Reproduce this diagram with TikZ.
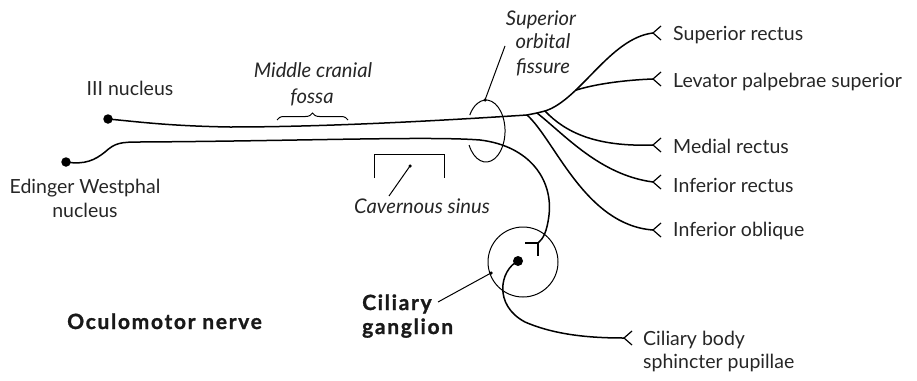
\documentclass[tikz,border=0pt]{standalone}
\usepackage{fontspec}
\setmainfont{Lato}
\usetikzlibrary{decorations.pathreplacing,calc}
\tikzset{
  lbl/.style={font=\fontsize{19.5}{24}\selectfont, inner sep=0pt, text=black!85},
  ilbl/.style={lbl, font=\fontsize{20.2}{24}\selectfont\itshape},
  blbl/.style={inner sep=0pt, text=black!90, font=\fontsize{21}{24}\selectfont\bfseries\addfontfeature{LetterSpace=8,FakeBold=1.2}},
  nerve/.style={line width=1.5pt, line cap=round},
  thin/.style={line width=1pt},
  dotnode/.style={circle, fill=black, inner sep=0pt, minimum size=#1},
  fork/.style={line width=1.2pt}
}
\begin{document}
\begin{tikzpicture}[x=1pt,y=-1pt]
\path[use as bounding box] (0,0) rectangle (917,380);

% nuclei
\node[dotnode=9.5pt] (iii) at (108,119) {};
\node[dotnode=9.5pt] (ew) at (66,162) {};
\node[lbl, anchor=base] (iiil) at (130,95) {III nucleus};
\node[lbl, anchor=base] (ewl1) at (85,193) {Edinger Westphal};
\node[lbl, anchor=base] (ewl2) at (85,217) {nucleus};

% muscle endings (fork vertices)
\coordinate (sr) at (653,33);
\coordinate (lps) at (653,79);
\coordinate (mr) at (653,145);
\coordinate (ir) at (653,182);
\coordinate (io) at (653,230);
\coordinate (cb) at (624,338);
\coordinate (syn) at (538,243);

% branch points on the main trunk
\coordinate (b1) at (527,115);
\coordinate (b2) at (537,113);
\coordinate (b3) at (545,111);

% main trunk (III nucleus) to superior rectus
\draw[nerve] (iii.center) .. controls (140,122) and (170,126) .. (230,127)
   .. controls (330,127) and (450,120) .. (b1)
   .. controls (531,114.2) and (534,113.6) .. (b2)
   .. controls (540,112.3) and (542,111.7) .. (b3)
   .. controls (580,100) and (610,38) .. coordinate[pos=0.3] (b4) (sr);
% levator
\draw[nerve] (b4) .. controls (595,84) and (625,80) .. (lps);
% medial rectus
\draw[nerve] (b3) .. controls (565,132) and (595,147) .. (mr);
% inferior rectus
\draw[nerve] (b2) .. controls (565,135) and (600,175) .. (ir);
% inferior oblique
\draw[nerve] (b1) .. controls (555,140) and (585,225) .. (io);

% parasympathetic (Edinger Westphal) to ciliary ganglion
\draw[nerve] (ew.center) .. controls (85,165) and (95,160) .. (105,152)
   .. controls (115,143) and (120,142) .. (140,142)
   .. controls (300,141) and (430,136) .. (480,140)
   .. controls (530,146) and (553,180) .. (549,215)
   .. controls (547,232) and (543,239) .. (syn);
\draw[fork] (syn) -- ++(-13,0);
\draw[fork] (syn) -- ++(0,13);

% ciliary ganglion
\node[circle, draw, thin, minimum size=70pt, inner sep=0pt] (cg) at (523,262) {};
\node[dotnode=10pt] (gdot) at (518,261) {};
\draw[nerve] (gdot.center) .. controls (500,270) and (493,305) .. (525,322)
   .. controls (555,335) and (590,338) .. (cb);

% forks at muscles
\foreach \p in {sr,lps,mr,ir,io,cb}{
  \draw[fork] ($(\p)+(8,-7)$) -- (\p) -- ($(\p)+(8,7)$);
}

% superior orbital fissure (left side hidden behind the nerves)
\coordinate (sofstart) at (469.1,145.1);
\draw[thin] (sofstart) arc[start angle=207, end angle=509, x radius=19pt, y radius=31pt];
\node[dotnode=3.5pt] (sofdot) at (485,100) {};
\coordinate (sofend) at (505,46);
\draw[thin] (sofdot.center) -- (sofend);
\node[ilbl, anchor=base] (sof1) at (541,25) {Superior};
\node[ilbl, anchor=base] (sof2) at (543,48) {orbital};
\node[ilbl, anchor=base] (sof3) at (543,73) {fissure};

% middle cranial fossa
\draw[thin, decorate, decoration={brace, amplitude=7pt}] (277,120) -- (348,120);
\node[ilbl, anchor=base] (mcf1) at (313,77) {Middle cranial};
\node[ilbl, anchor=base] (mcf2) at (312,103) {fossa};

% cavernous sinus
\draw[thin] (374,178) -- (374,154) -- (444,154) -- (444,178);
\node[dotnode=3.5pt] (csdot) at (410,166) {};
\coordinate (csend) at (389,196);
\draw[thin] (csdot.center) -- (csend);
\node[ilbl, anchor=base] (csl) at (422,213) {Cavernous sinus};

% ciliary ganglion label
\node[dotnode=3.5pt] (cgdot) at (491,273) {};
\coordinate (cgend) at (438,302);
\draw[thin] (cgdot.center) -- (cgend);
\node[blbl, anchor=base west] (cgl1) at (362,310) {Ciliary};
\node[blbl, anchor=base west] (cgl2) at (362,334) {ganglion};

% muscle labels
\node[lbl, anchor=base west] (srl) at (673,40) {Superior rectus};
\node[lbl, anchor=base west] (lpsl) at (673,87) {Levator palpebrae superior};
\node[lbl, anchor=base west] (mrl) at (673,153) {Medial rectus};
\node[lbl, anchor=base west] (irl) at (673,192) {Inferior rectus};
\node[lbl, anchor=base west] (iol) at (673,236) {Inferior oblique};
\node[lbl, anchor=base west] (cbl1) at (643,345) {Ciliary body};
\node[lbl, anchor=base west] (cbl2) at (643,368) {sphincter pupillae};

% title
\node[blbl, anchor=base west] (title) at (67,329) {Oculomotor nerve};
\end{tikzpicture}
\end{document}
